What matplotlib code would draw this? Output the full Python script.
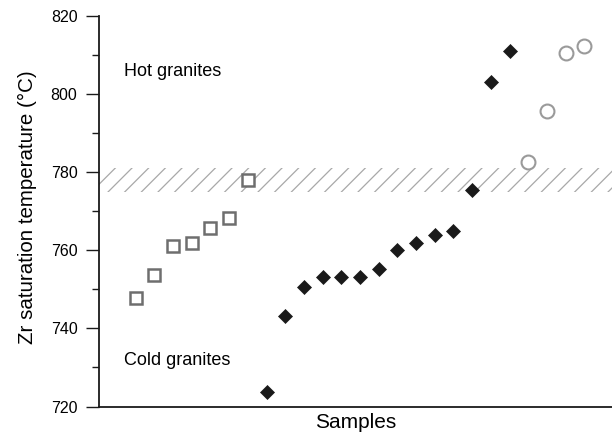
import matplotlib
matplotlib.use("Agg")
import matplotlib.pyplot as plt
from matplotlib.ticker import MultipleLocator

plt.rcParams['font.family'] = ['Liberation Sans', 'DejaVu Sans']
plt.rcParams['hatch.linewidth'] = 0.9

# Data (sample index, Zr saturation temperature in °C)
square_x = [1, 2, 3, 4, 5, 6, 7]
square_y = [747.8, 753.8, 761.0, 761.9, 765.6, 768.3, 778.0]

diamond_x = [8, 9, 10, 11, 12, 13, 14, 15, 16, 17, 18, 19, 20, 21]
diamond_y = [723.8, 743.3, 750.5, 753.2, 753.2, 753.1, 755.3, 760.0,
             761.9, 764.0, 764.9, 775.4, 803.2, 811.1]

circle_x = [22, 23, 24, 25]
circle_y = [782.6, 795.8, 810.5, 812.4]

band_low, band_high = 775, 781

fig = plt.figure(figsize=(6.12, 4.36), dpi=100)
ax = fig.add_axes([99/612, (436-406.5)/436, (612-99)/612, 390.5/436])

ax.axhspan(band_low, band_high, facecolor='none', edgecolor='#a8a8a8',
           hatch='//', linewidth=0, zorder=1)

ax.plot(square_x, square_y, linestyle='none', marker='s', markersize=8,
        markerfacecolor='white', markeredgecolor='#6e6e6e', markeredgewidth=1.8, zorder=3)
ax.plot(diamond_x, diamond_y, linestyle='none', marker='D', markersize=6.8,
        markerfacecolor='#1a1a1a', markeredgecolor='#1a1a1a', markeredgewidth=0.5, zorder=3)
ax.plot(circle_x, circle_y, linestyle='none', marker='o', markersize=10,
        markerfacecolor='white', markeredgecolor='#9a9a9a', markeredgewidth=1.5, zorder=3)

ax.set_xlim(-0.96, 26.48)
ax.set_ylim(720, 820)
ax.yaxis.set_major_locator(MultipleLocator(20))
ax.yaxis.set_minor_locator(MultipleLocator(10))
ax.set_xticks([])

ax.spines['top'].set_visible(False)
ax.spines['right'].set_visible(False)
ax.spines['left'].set_linewidth(1.3)
ax.spines['bottom'].set_linewidth(1.3)
ax.spines['left'].set_color('#1a1a1a')
ax.spines['bottom'].set_color('#1a1a1a')

ax.tick_params(axis='y', which='major', length=9.5, width=1.0, pad=6,
               labelsize=11.5, color='#1a1a1a')
ax.tick_params(axis='y', which='minor', length=5, width=1.0, color='#1a1a1a')

ax.set_ylabel('Zr saturation temperature (°C)', fontsize=14.8)
ax.yaxis.set_label_coords(-0.121, 0.511)
ax.set_xlabel('Samples', fontsize=15, labelpad=5)

ax.text(0.049, 0.858, 'Hot granites', transform=ax.transAxes, fontsize=13,
        ha='left', va='center')
ax.text(0.049, 0.119, 'Cold granites', transform=ax.transAxes, fontsize=13,
        ha='left', va='center')

fig.savefig('out.png', dpi=100)
